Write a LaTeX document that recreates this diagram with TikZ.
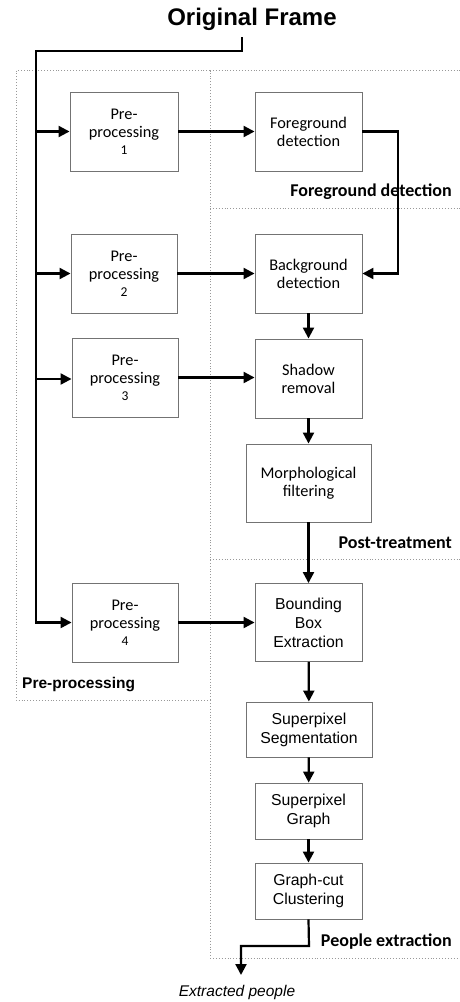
\documentclass[tikz,border=0pt]{standalone}
\usepackage{fontspec}
\setmainfont{Liberation Sans}
\newfontfamily\calfont{Carlito}
\newfontfamily\arifont{Liberation Sans}
\usetikzlibrary{arrows.meta}
\begin{document}
\begin{tikzpicture}[x=1pt,y=-1pt,
  boxc/.style={draw=black!55,line width=0.9pt,fill=white,align=center,inner sep=0pt,
    font=\calfont\fontsize{16.3}{18}\selectfont},
  boxa/.style={draw=black!55,line width=0.9pt,fill=white,align=center,inner sep=0pt,
    font=\arifont\fontsize{15.8}{19}\selectfont},
  flow/.style={line width=2.2pt,-{Triangle[length=11pt,width=11pt]}},
  region/.style={draw=black!40,dotted,line width=0.9pt},
  grp/.style={font=\calfont\bfseries\fontsize{18}{20}\selectfont,inner sep=0pt}]
\useasboundingbox (0,0) rectangle (460,1002);
% regions
\draw[region] (16,70.5) rectangle (210,700);
\draw[region] (210,70.5) -- (460,70.5);
\draw[region] (210,208) -- (460,208);
\draw[region] (210,559) -- (460,559);
\draw[region] (210,700) -- (210,958) -- (460,958);
% group labels
\node[grp,anchor=east] (lfg) at (452,192) {Foreground detection};
\node[grp,anchor=east] (lpt) at (452,543) {Post-treatment};
\node[grp,anchor=east] (lpe) at (452,942) {People extraction};
\node[font=\arifont\bfseries\fontsize{15.5}{17}\selectfont,anchor=west,inner sep=0pt] (lpp) at (22,685) {Pre-processing};
% title
\node[font=\arifont\bfseries\fontsize{24}{26}\selectfont,inner sep=0pt] (title) at (252,19) {Original Frame};
% boxes
\node[boxc,minimum width=108pt,minimum height=79pt] (pp1) at (124,131.5) {Pre-\\processing\\[-1pt]{\fontsize{13.5}{13}\selectfont 1}};
\node[boxc,minimum width=107pt,minimum height=79pt] (fg) at (308.5,131.5) {Foreground\\detection};
\node[boxc,minimum width=106pt,minimum height=79pt] (pp2) at (124,273.5) {Pre-\\processing\\[-1pt]{\fontsize{13.5}{13}\selectfont 2}};
\node[boxc,minimum width=107pt,minimum height=79pt] (bg) at (308.5,273.5) {Background\\detection};
\node[boxc,minimum width=106pt,minimum height=79pt] (pp3) at (125,377.5) {Pre-\\processing\\[-1pt]{\fontsize{13.5}{13}\selectfont 3}};
\node[boxc,minimum width=107pt,minimum height=79pt] (sr) at (308.5,378.5) {Shadow\\removal};
\node[boxc,minimum width=125pt,minimum height=78pt] (mf) at (308.5,483) {Morphological\\filtering};
\node[boxc,minimum width=106pt,minimum height=79pt] (pp4) at (125,622.5) {Pre-\\processing\\[-1pt]{\fontsize{13.5}{13}\selectfont 4}};
\node[boxa,minimum width=107pt,minimum height=78pt] (bb) at (308.5,622.5) {Bounding\\Box\\Extraction};
\node[boxa,minimum width=126pt,minimum height=55pt] (ss) at (309,729.5) {Superpixel\\Segmentation};
\node[boxa,minimum width=107pt,minimum height=56pt] (sg) at (308.5,811) {Superpixel\\Graph};
\node[boxa,minimum width=107pt,minimum height=56pt] (gc) at (308.5,891) {Graph-cut\\Clustering};
\node[font=\arifont\itshape\fontsize{15.5}{17}\selectfont,inner sep=0pt] (ep) at (237,992) {Extracted people};
% coordinates
\coordinate (t0) at (242,37);
\coordinate (t1) at (242,51);
\coordinate (c0) at (36,51);
\coordinate (m1) at (36,131.5);
\coordinate (m2) at (36,273.5);
\coordinate (m3) at (36,379);
\coordinate (m4) at (36,622.5);
\coordinate (fgr) at (398,131.5);
\coordinate (g1) at (309,946);
\coordinate (g2) at (241,946);
\coordinate (out) at (241,975);
% connectors
\draw[flow] (t0) -- (t1) -- (c0) -- (m4) -- (pp4.west);
\draw[flow] (m1) -- (pp1.west);
\draw[flow] (m2) -- (pp2.west);
\draw[flow] (m3) -- (m3 -| pp3.west);
\draw[flow] (pp1.east) -- (fg.west);
\draw[flow] (pp2.east) -- (bg.west);
\draw[flow] (pp3.east) -- (pp3.east -| sr.west);
\draw[flow] (pp4.east) -- (pp4.east -| bb.west);
\draw[flow] (fg.east) -- (fgr) |- (bg.east);
\draw[flow] (bg) -- (sr);
\draw[flow] (sr) -- (mf);
\draw[flow] (mf) -- (bb);
\draw[flow] (bb) -- (ss);
\draw[flow] (ss) -- (sg);
\draw[flow] (sg) -- (gc);
\draw[flow] (gc.south) -- (g1) -- (g2) -- (out);
\end{tikzpicture}
\end{document}
